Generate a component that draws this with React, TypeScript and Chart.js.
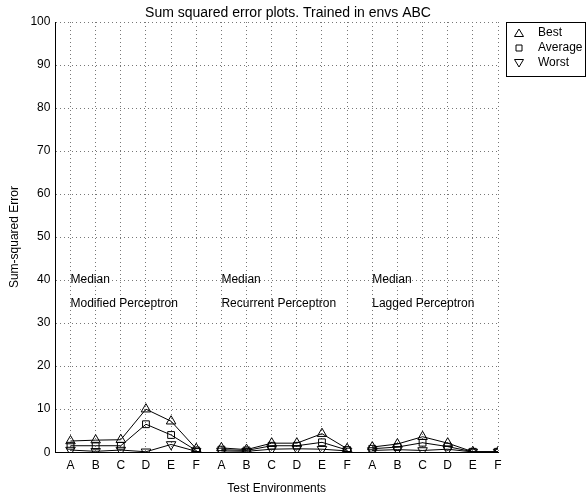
import { useEffect, useRef } from 'react';
import { Chart, registerables } from 'chart.js';

Chart.register(...registerables);

// ---- data ----
const envLabels = ['A', 'B', 'C', 'D', 'E', 'F'];
const groupNames = ['Modified Perceptron', 'Recurrent Perceptron', 'Lagged Perceptron'];
const seriesNames = ['Best', 'Average', 'Worst'];
const yTickValues = [0, 10, 20, 30, 40, 50, 60, 70, 80, 90, 100];

const modifiedBest = [2.6, 2.8, 2.9, 10.0, 7.2, 0.8];
const modifiedAverage = [1.5, 1.5, 1.5, 6.5, 4.0, 0.4];
const modifiedWorst = [0.5, 0.2, 0.5, 0.1, 1.8, 0.2];

const recurrentBest = [1.0, 0.6, 2.1, 2.1, 4.3, 0.8];
const recurrentAverage = [0.6, 0.4, 1.5, 1.5, 2.3, 0.5];
const recurrentWorst = [0.3, 0.2, 0.7, 0.8, 0.7, 0.3];

const laggedBest = [1.2, 1.9, 3.6, 2.1, 0.1, 0.1];
const laggedAverage = [0.8, 1.2, 2.2, 1.3, 0.1, 0.1];
const laggedWorst = [0.4, 0.6, 0.4, 0.7, 0.05, 0.05];

const titleText = 'Sum squared error plots. Trained in envs ABC';
const medianText = 'Median';
const medianLabelValue = 40;
const nameLabelValue = 34.5;

const groupSeries = [
  [modifiedBest, modifiedAverage, modifiedWorst],
  [recurrentBest, recurrentAverage, recurrentWorst],
  [laggedBest, laggedAverage, laggedWorst],
];

const FONT = '"Liberation Sans", Arial, Helvetica, sans-serif';

const pointStyles = ['triangle', 'rect', 'triangle'];
const pointRotations = [0, 0, 180];
const pointRadii = [5.5, 4.8, 5.5];

const xTickValues = groupNames.flatMap((_, g) => envLabels.map((_, i) => g * envLabels.length + i + 1));

const annotationPlugin = {
  id: 'annotations',
  afterDatasetsDraw(chart: any) {
    const { ctx, scales } = chart;
    const xs = scales.x;
    const ys = scales.y;
    ctx.save();
    ctx.fillStyle = '#000';
    ctx.font = `12px ${FONT}`;
    ctx.textAlign = 'left';
    ctx.textBaseline = 'middle';
    groupNames.forEach((name, g) => {
      const x = xs.getPixelForValue(g * envLabels.length + 1);
      ctx.fillText(medianText, x, ys.getPixelForValue(medianLabelValue));
      ctx.fillText(name, x, ys.getPixelForValue(nameLabelValue));
    });
    ctx.restore();
  },
  afterDraw(chart: any) {
    const { ctx } = chart;
    ctx.save();
    // title
    ctx.fillStyle = '#000';
    ctx.font = `14px ${FONT}`;
    ctx.textAlign = 'center';
    ctx.textBaseline = 'middle';
    ctx.fillText(titleText, 288, 13);

    // legend
    const bx = 506;
    const by = 22;
    const bw = 79;
    const bh = 54;
    ctx.fillStyle = '#fff';
    ctx.fillRect(bx, by, bw, bh);
    ctx.strokeStyle = '#000';
    ctx.lineWidth = 1;
    ctx.strokeRect(bx + 0.5, by + 0.5, bw, bh);
    ctx.font = `12px ${FONT}`;
    ctx.textBaseline = 'middle';
    ctx.textAlign = 'left';
    seriesNames.forEach((name, s) => {
      const cy = by + 11 + s * 15;
      const cx = bx + 13;
      ctx.fillStyle = '#000';
      ctx.fillText(name, bx + 32, cy);
      ctx.strokeStyle = '#000';
      ctx.lineWidth = 1;
      ctx.beginPath();
      if (s === 0) {
        ctx.moveTo(cx, cy - 4);
        ctx.lineTo(cx + 4.5, cy + 3.5);
        ctx.lineTo(cx - 4.5, cy + 3.5);
        ctx.closePath();
      } else if (s === 1) {
        ctx.rect(cx - 3, cy - 3, 6, 6);
      } else {
        ctx.moveTo(cx, cy + 4);
        ctx.lineTo(cx + 4.5, cy - 3.5);
        ctx.lineTo(cx - 4.5, cy - 3.5);
        ctx.closePath();
      }
      ctx.stroke();
    });
    ctx.restore();
  },
};

export default function App() {
  const canvasRef = useRef<HTMLCanvasElement | null>(null);

  useEffect(() => {
    if (!canvasRef.current) return;
    const datasets: any[] = [];
    groupSeries.forEach((series, g) => {
      series.forEach((values, s) => {
        datasets.push({
          label: seriesNames[s],
          data: values.map((v, i) => ({ x: g * envLabels.length + i + 1, y: v })),
          borderColor: '#000',
          borderWidth: 1,
          backgroundColor: 'rgba(0,0,0,0)',
          pointStyle: pointStyles[s],
          pointRotation: pointRotations[s],
          pointRadius: pointRadii[s],
          pointBorderColor: '#000',
          pointBorderWidth: 1,
          pointBackgroundColor: 'rgba(0,0,0,0)',
          fill: false,
          tension: 0,
        });
      });
    });

    const chart = new Chart(canvasRef.current, {
      type: 'line',
      data: { datasets },
      plugins: [annotationPlugin],
      options: {
        animation: false,
        responsive: false,
        maintainAspectRatio: false,
        layout: { padding: { left: 7, right: 89, top: 22, bottom: 0 } },
        plugins: {
          legend: { display: false },
          tooltip: { enabled: false },
          title: { display: false },
        },
        scales: {
          x: {
            type: 'linear',
            min: 0.4,
            max: 18,
            afterBuildTicks: (scale: any) => {
              scale.ticks = xTickValues.map((v) => ({ value: v }));
            },
            ticks: {
              color: '#000',
              font: { family: FONT, size: 12 },
              padding: 6,
              autoSkip: false,
              maxRotation: 0,
              callback: (v: any) => envLabels[(Number(v) - 1) % envLabels.length],
            },
            grid: { color: '#777', lineWidth: 1, drawTicks: false },
            border: { display: true, color: '#000', width: 1, dash: [1, 3] },
            title: {
              display: true,
              text: 'Test Environments',
              color: '#000',
              font: { family: FONT, size: 12 },
              padding: { top: 3, bottom: 0 },
            },
          },
          y: {
            type: 'linear',
            min: 0,
            max: 100,
            afterBuildTicks: (scale: any) => {
              scale.ticks = yTickValues.map((v) => ({ value: v }));
            },
            ticks: {
              color: '#000',
              font: { family: FONT, size: 12 },
              padding: 5,
            },
            grid: { color: '#777', lineWidth: 1, drawTicks: false },
            border: { display: true, color: '#000', width: 1, dash: [1, 3] },
            title: {
              display: true,
              text: 'Sum-squared Error',
              color: '#000',
              font: { family: FONT, size: 12 },
              padding: { top: 0, bottom: 4 },
            },
          },
        },
      },
    });
    return () => chart.destroy();
  }, []);

  return (
    <div style={{ position: 'fixed', left: 0, top: 0, width: 587, height: 496, background: '#fff' }}>
      <canvas ref={canvasRef} width={587} height={496} style={{ display: 'block' }} />
    </div>
  );
}
